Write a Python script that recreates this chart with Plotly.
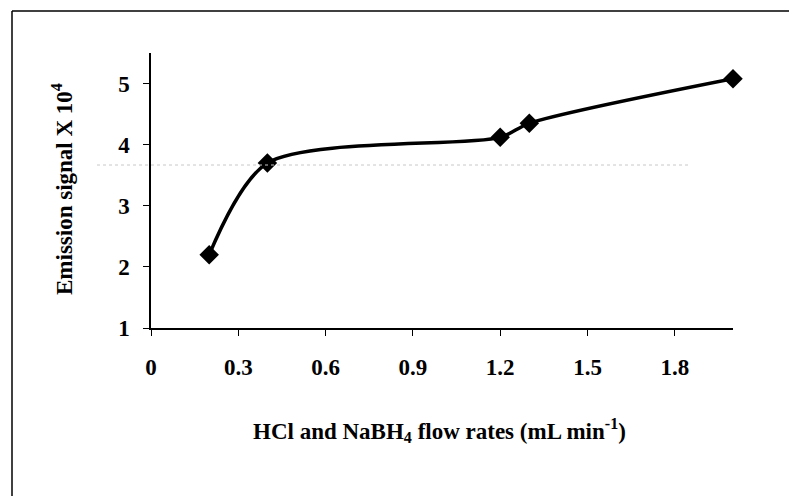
import plotly.graph_objects as go

flow_rates = [0.2, 0.4, 1.2, 1.3, 2.0]
emission = [2.2, 3.7, 4.12, 4.35, 5.08]
x_ticks = [0, 0.3, 0.6, 0.9, 1.2, 1.5, 1.8]
x_tick_labels = ["0", "0.3", "0.6", "0.9", "1.2", "1.5", "1.8"]
y_ticks = [1, 2, 3, 4, 5]

FONT = "Liberation Serif"
FS = 23

fig = go.Figure()
fig.add_trace(go.Scatter(
    x=flow_rates, y=emission, mode="lines+markers",
    line=dict(color="black", width=3.5, shape="spline", smoothing=0.8),
    marker=dict(symbol="diamond", size=15, color="black"),
    showlegend=False, hoverinfo="skip", cliponaxis=False,
))

axis_common = dict(
    showgrid=False, zeroline=False, showline=True, linecolor="black", linewidth=1.5,
    ticks="outside", ticklen=6, tickwidth=1.2, tickcolor="black",
    tickfont=dict(family=FONT, size=FS, color="black", weight="bold"),
)

fig.update_xaxes(range=[0, 2.0], tickvals=x_ticks, ticktext=x_tick_labels,
                 ticklabelstandoff=12, **axis_common)
fig.update_yaxes(range=[1, 5.5], tickvals=y_ticks, ticklabelstandoff=9, **axis_common)

W, H = 789, 496
L, R, T, B = 151, 56, 53, 168
pw, ph = W - L - R, H - T - B

def px(x):
    return (x - L) / pw

def py(y):
    return (H - B - y) / ph

fig.add_annotation(
    text="<b>HCl and NaBH<sub>4</sub> flow rates (mL min<sup>-1</sup>)</b>",
    xref="paper", yref="paper", x=px(439), y=py(430), xanchor="center", yanchor="middle",
    showarrow=False, font=dict(family=FONT, size=FS, color="black"))
fig.add_annotation(
    text="<b>Emission signal X 10<sup>4</sup></b>",
    xref="paper", yref="paper", x=px(62), y=py(189), xanchor="center", yanchor="middle",
    textangle=-90, showarrow=False, font=dict(family=FONT, size=FS, color="black"))

# frame lines (left and top)
fig.add_shape(type="line", xref="paper", yref="paper", x0=px(12), y0=py(11), x1=px(12), y1=py(496),
              line=dict(color="black", width=1.5))
fig.add_shape(type="line", xref="paper", yref="paper", x0=px(12), y0=py(11), x1=px(789), y1=py(11),
              line=dict(color="black", width=1.5))
# faint dotted line
fig.add_shape(type="line", xref="paper", yref="paper", x0=px(97), y0=py(165), x1=px(690), y1=py(165),
              line=dict(color="#c8c8c8", width=1, dash="dot"))

fig.update_layout(
    width=W, height=H, margin=dict(l=L, r=R, t=T, b=B),
    paper_bgcolor="white", plot_bgcolor="white",
)

fig.write_html("out.html")
